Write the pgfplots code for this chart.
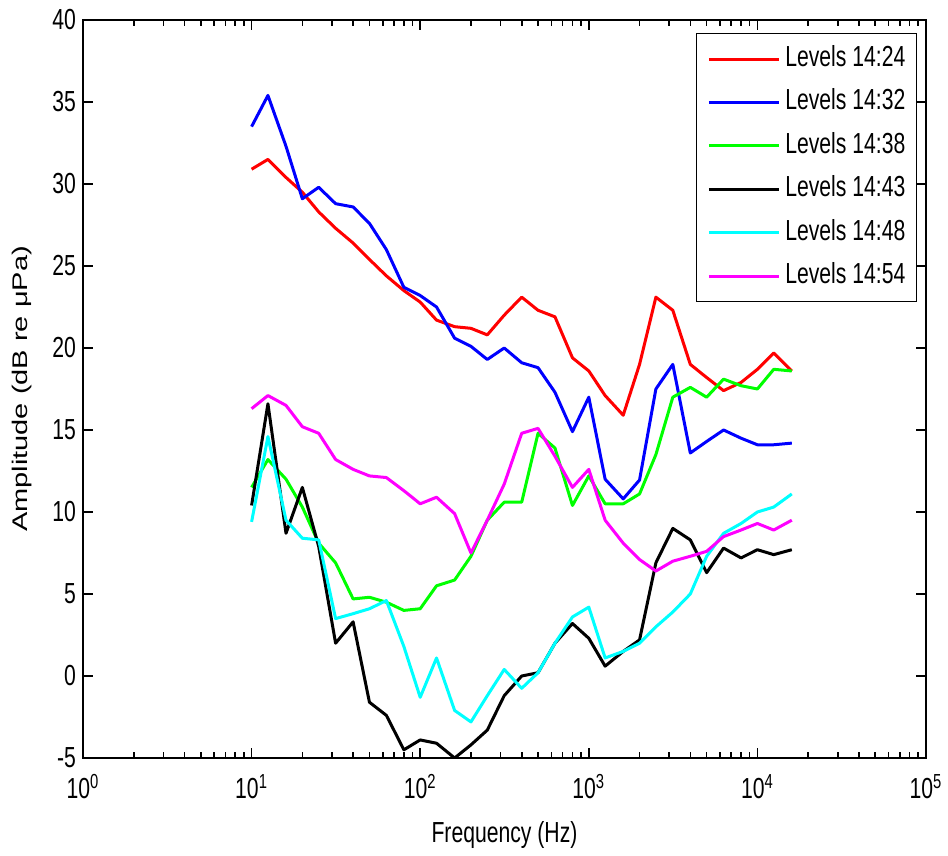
\documentclass[border=0pt]{standalone}
\usepackage{fontspec}
\setmainfont{Liberation Sans}[FakeStretch=0.73]
\newfontfamily\ylabfont{Liberation Sans}
\usepackage{graphicx}
\usepackage{pgfplots}
\usepackage{pgfplotstable}
\pgfplotsset{compat=1.18}
\newcommand\chartfont{\fontsize{14.5}{17}\selectfont}

\pgfplotstableread{
f     r    b    g    k    c    m
10    30.9 33.5 11.5 10.4 9.4  16.3
12.5  31.5 35.4 13.2 16.6 14.6 17.1
16    30.4 32.3 12.0 8.7  9.5  16.5
20    29.5 29.1 10.3 11.5 8.4  15.2
25    28.3 29.8 8.1  7.9  8.3  14.8
31.5  27.3 28.8 6.9  2.0  3.5  13.2
40    26.4 28.6 4.7  3.3  3.8  12.6
50    25.4 27.6 4.8  -1.6 4.1  12.2
63    24.4 26.0 4.5  -2.4 4.6  12.1
80    23.5 23.7 4.0  -4.5 1.8  11.3
100   22.8 23.2 4.1  -3.9 -1.3 10.5
125   21.7 22.5 5.5  -4.1 1.1  10.9
160   21.3 20.6 5.85 -5.0 -2.1 9.9
200   21.2 20.1 7.3  -4.2 -2.8 7.5
250   20.8 19.3 9.5  -3.3 -1.2 9.5
315   22.0 20.0 10.6 -1.2 0.4  11.7
400   23.1 19.1 10.6 0.0  -0.75 14.8
500   22.3 18.8 14.8 0.2  0.2  15.1
630   21.9 17.3 13.9 2.0  2.0  13.4
800   19.4 14.9 10.4 3.2  3.6  11.5
1000  18.6 17.0 12.2 2.3  4.2  12.6
1250  17.1 12.0 10.5 0.6  1.1  9.5
1600  15.9 10.8 10.5 1.5  1.5  8.1
2000  19.0 11.95 11.1 2.2 2.0  7.1
2500  23.1 17.5 13.5 6.9  3.0  6.4
3150  22.3 19.0 17.0 9.0  3.9  7.0
4000  19.0 13.6 17.6 8.3  5.0  7.3
5000  18.2 14.3 17.0 6.3  7.3  7.6
6300  17.4 15.0 18.1 7.8  8.7  8.5
8000  17.9 14.5 17.7 7.2  9.3  8.9
10000 18.7 14.1 17.5 7.7  10.0 9.3
12500 19.7 14.1 18.7 7.4  10.3 8.9
16000 18.6 14.2 18.6 7.7  11.1 9.5
}\data

\definecolor{mred}{RGB}{255,0,0}
\definecolor{mblue}{RGB}{0,0,255}
\definecolor{mgreen}{RGB}{0,255,0}
\definecolor{mcyan}{RGB}{0,255,255}
\definecolor{mmag}{RGB}{255,0,255}

\begin{document}
\begin{tikzpicture}
\begin{axis}[
  at={(0pt,0pt)}, anchor=south west,
  scale only axis, width=421.5pt, height=369pt,
  xmode=log, xmin=1, xmax=1e5, ymin=-5, ymax=40,
  xtick={1,10,100,1000,10000,100000},
  xticklabels={10\textsuperscript{0},10\textsuperscript{1},10\textsuperscript{2},10\textsuperscript{3},10\textsuperscript{4},10\textsuperscript{5}},
  minor xtick={2,3,4,5,6,7,8,9,20,30,40,50,60,70,80,90,200,300,400,500,600,700,800,900,2000,3000,4000,5000,6000,7000,8000,9000,20000,30000,40000,50000,60000,70000,80000,90000},
  ytick={-5,0,...,40},
  /pgf/number format/assume math mode=true,
  tick label style={font=\chartfont},
  xticklabel style={yshift=-4.5pt},
  label style={font=\chartfont},
  axis line style={line width=0.8pt},
  every tick/.style={line width=0.8pt, black},
  major tick length=5pt, minor tick length=3pt,
  xlabel={Frequency (Hz)},
  xlabel style={at={(axis description cs:0.5,0)}, anchor=base, yshift=-42pt},
  ylabel={\scalebox{1}[0.73]{\ylabfont Amplitude (dB re μPa)}},
  ylabel style={at={(axis description cs:-0.0724,0.5)}, anchor=center},
  legend style={at={(axis description cs:0.9893,0.9824)}, anchor=north east,
    draw=black, line width=0.6pt, inner xsep=5.5pt, inner ysep=6pt,
    row sep=8.2pt, font=\chartfont,
    nodes={inner sep=0pt, text height=10.5pt, text depth=3pt},
    /tikz/every odd column/.style={column sep=2.5pt}},
  legend cell align=left,
  legend image code/.code={\draw[#1, line width=1.5pt] (0pt,0pt) -- (35pt,0pt);},
  every axis plot/.append style={line width=1.5pt, line join=round},
]
\addplot[mred]  table[x=f,y=r] {\data};
\addplot[mblue] table[x=f,y=b] {\data};
\addplot[mgreen] table[x=f,y=g] {\data};
\addplot[black] table[x=f,y=k] {\data};
\addplot[mcyan] table[x=f,y=c] {\data};
\addplot[mmag]  table[x=f,y=m] {\data};
\legend{Levels 14:24,Levels 14:32,Levels 14:38,Levels 14:43,Levels 14:48,Levels 14:54}
\end{axis}
\pgfresetboundingbox
\path (-41.5pt,-49pt) rectangle (432.5pt,379pt);
\end{tikzpicture}
\end{document}
